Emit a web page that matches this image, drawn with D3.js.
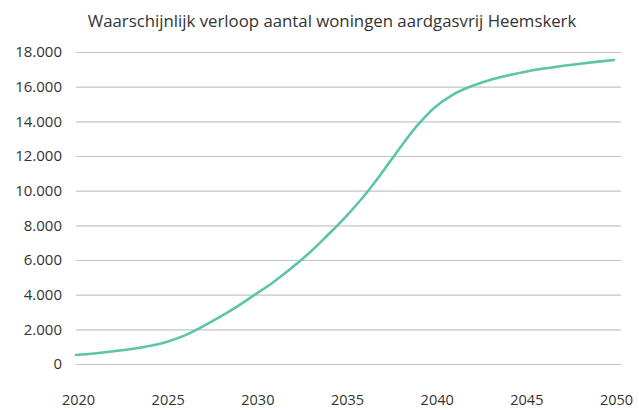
<!DOCTYPE html>
<html>
<head>
<meta charset="utf-8">
<script src="https://cdn.jsdelivr.net/npm/d3@7"></script>
<style>
  body { margin: 0; background: #fff; }
  text { font-family: "Open Sans", sans-serif; fill: #333; }
</style>
</head>
<body>
<div id="chart"></div>
<script>
const width = 639;
const height = 410;

// data
const years = [2020, 2021, 2022, 2023, 2024, 2025, 2026, 2027, 2028, 2029,
  2030, 2031, 2032, 2033, 2034, 2035, 2036, 2037, 2038, 2039,
  2040, 2041, 2042, 2043, 2044, 2045, 2046, 2047, 2048, 2049, 2050];
const woningen = [520, 610, 720, 850, 1020, 1260, 1620, 2130, 2700, 3330,
  4020, 4720, 5520, 6400, 7400, 8450, 9620, 10950, 12380, 13720,
  14800, 15530, 16010, 16360, 16630, 16850, 17030, 17180, 17310, 17430, 17540];
const yTicks = [0, 2000, 4000, 6000, 8000, 10000, 12000, 14000, 16000, 18000];
const xTicks = [2020, 2025, 2030, 2035, 2040, 2045, 2050];
const title = "Waarschijnlijk verloop aantal woningen aardgasvrij Heemskerk";

const plotLeft = 76, plotRight = 621;

const svg = d3.select("#chart").append("svg")
  .attr("width", width)
  .attr("height", height);

const x = d3.scaleLinear().domain([2020, 2050]).range([76, 614]);
const y = d3.scaleLinear().domain([0, 18000]).range([364, 52]);

const fmt = v => d3.format(",")(v).replace(/,/g, ".");

// gridlines + y labels
const yAxis = svg.append("g")
  .attr("transform", "translate(" + plotLeft + ",0)")
  .call(d3.axisLeft(y).tickValues(yTicks).tickFormat(fmt).tickSize(-(plotRight - plotLeft)).tickPadding(14));
yAxis.select(".domain").remove();
yAxis.selectAll(".tick line").attr("stroke", "#c4c4c4").attr("stroke-width", 1.2);
yAxis.selectAll(".tick text").attr("font-size", 15).attr("fill", "#333");

// x labels
const xAxis = svg.append("g")
  .attr("transform", "translate(2,0)")
  .call(d3.axisBottom(x).tickValues(xTicks).tickFormat(d3.format("d")).tickSize(0).tickPadding(0));
xAxis.select(".domain").remove();
xAxis.selectAll(".tick text").attr("font-size", 14.5).attr("fill", "#333").attr("y", 405).attr("dy", null);

// curve
const line = d3.line()
  .x((d, i) => x(years[i]))
  .y(d => y(d))
  .curve(d3.curveCatmullRom.alpha(0.5));

svg.append("path")
  .datum(woningen)
  .attr("d", line)
  .attr("fill", "none")
  .attr("stroke", "#5cc4a9")
  .attr("stroke-width", 2.6)
  .attr("stroke-linecap", "round");

svg.append("text")
  .attr("x", 332)
  .attr("y", 27)
  .attr("text-anchor", "middle")
  .attr("font-size", 16.8)
  .text(title);
</script>
</body>
</html>
